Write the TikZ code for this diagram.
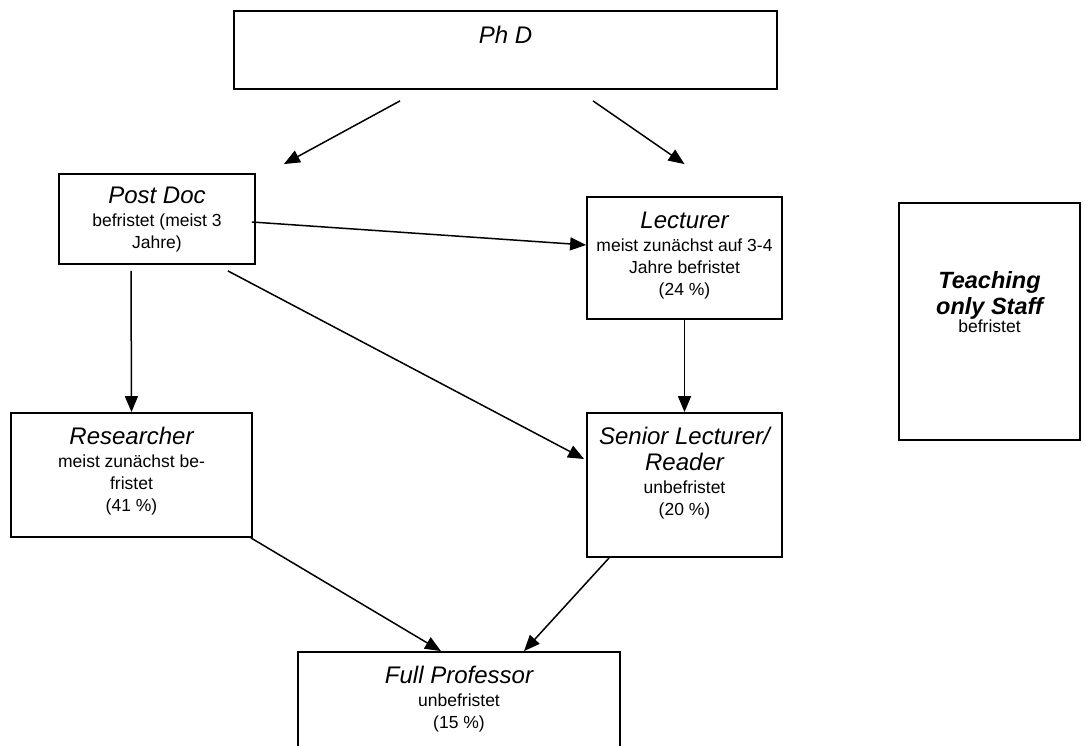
\documentclass[tikz,border=0pt]{standalone}
\usepackage{fontspec}
\setmainfont{Liberation Sans}
\usetikzlibrary{arrows.meta}
\newcommand{\hd}[1]{{\fontsize{24}{26}\selectfont\itshape #1}}
\newcommand{\hdb}[1]{{\fontsize{23.5}{26}\selectfont\bfseries\itshape #1}}
\begin{document}
\begin{tikzpicture}[x=1pt,y=-1pt,
  box/.style={draw=black, line width=1.8pt, inner sep=0pt},
  lbl/.style={align=center, font=\fontsize{17.5}{22}\selectfont, inner sep=0pt},
  arr/.style={line width=1.5pt, -{Triangle[length=16pt,width=13pt]}}]
\clip (0,0) rectangle (1086,746);
\fill[white] (0,0) rectangle (1086,746);
% boxes
\node[box, minimum width=543pt, minimum height=78pt] (phd) at (505.5,50) {};
\node[box, minimum width=196pt, minimum height=90pt] (postdoc) at (157,219) {};
\node[box, minimum width=195pt, minimum height=122pt] (lect) at (684.5,258) {};
\node[box, minimum width=181pt, minimum height=237pt] (teach) at (989.5,321.5) {};
\node[box, minimum width=241pt, minimum height=124pt] (res) at (131.5,475) {};
\node[box, minimum width=195pt, minimum height=144pt] (senior) at (684.5,485) {};
\node[box, minimum width=322pt, minimum height=120pt] (full) at (459,712) {};
% texts
\node[lbl, anchor=north] (tphd) at ([yshift=-16pt]phd.north) {\hd{Ph D}};
\node[lbl, anchor=north] (tpost) at ([yshift=-14pt]postdoc.north) {\hd{Post Doc}\\[1pt] befristet (meist 3\\ Jahre)};
\node[lbl, anchor=north] (tlect) at ([yshift=-16pt]lect.north) {\hd{Lecturer}\\[1pt] meist zunächst auf 3-4\\ Jahre befristet\\ (24 \%)};
\node[lbl, anchor=north] (tteach) at ([yshift=-69pt]teach.north) {\hdb{Teaching}\\[4pt] \hdb{only Staff}\\[-4pt] befristet};
\node[lbl, anchor=north] (tres) at ([yshift=-15pt]res.north) {\hd{Researcher}\\[1pt] meist zunächst be-\\ fristet\\ (41 \%)};
\node[lbl, anchor=north] (tsen) at ([yshift=-15pt]senior.north) {\hd{Senior Lecturer/}\\[4pt] \hd{Reader}\\[1pt] unbefristet\\ (20 \%)};
\node[lbl, anchor=north] (tfull) at ([yshift=-15pt]full.north) {\hd{Full Professor}\\[1pt] unbefristet\\ (15 \%)};
% connectors
\draw[arr] ([xshift=-105.5pt,yshift=-11pt]phd.south) -- ([xshift=28pt,yshift=9pt]postdoc.north east);
\draw[arr] ([xshift=87.5pt,yshift=-11pt]phd.south) -- ([yshift=32pt]lect.north);
\draw[arr] ([xshift=-4pt,yshift=-3pt]postdoc.east) -- ([yshift=13pt]lect.west);
\draw[arr] ([xshift=-28pt,yshift=-6pt]postdoc.south east) -- ([xshift=-2pt,yshift=26pt]senior.west);
\draw[arr] ([xshift=-26pt,yshift=-6pt]postdoc.south) -- (res.north);
\draw[arr] (lect.south) -- (senior.north);
\draw[arr] ([xshift=-2pt]res.south east) -- ([xshift=-18pt]full.north);
\draw[arr] ([xshift=23pt]senior.south west) -- ([xshift=65pt]full.north);
\end{tikzpicture}
\end{document}
